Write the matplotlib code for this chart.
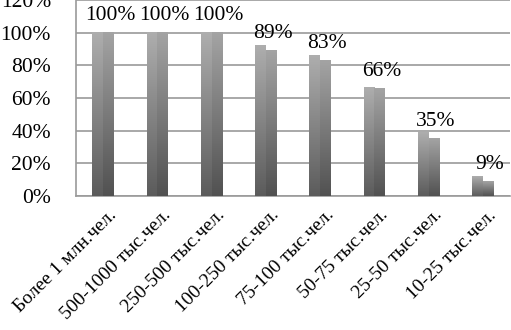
import numpy as np
import matplotlib.pyplot as plt

# Данные
categories = ['Более 1 млн.чел.', '500-1000 тыс.чел.', '250-500 тыс.чел.',
              '100-250 тыс.чел.', '75-100 тыс.чел.', '50-75 тыс.чел.',
              '25-50 тыс.чел.', '10-25 тыс.чел.']
back_vals = [100, 100, 100, 92, 86, 66.5, 39, 12]
front_vals = [100, 100, 100, 89, 83, 66, 35, 9]
labels = ['100%', '100%', '100%', '89%', '83%', '66%', '35%', '9%']
yticks = [0, 20, 40, 60, 80, 100, 120]

plt.rcParams['font.family'] = ['Liberation Serif', 'DejaVu Serif']

fig = plt.figure(figsize=(5.11, 3.30), dpi=100)
ax = fig.add_axes([76 / 511, 134 / 330, 434 / 511, 196 / 330])

x = np.arange(len(categories))
w = 0.2


def grad_bar(ax, x0, x1, h, top, bottom):
    """Столбец с вертикальным градиентом"""
    g = np.linspace(0, 1, 64).reshape(-1, 1)
    c0 = np.array(bottom)
    c1 = np.array(top)
    img = c0 + (c1 - c0) * g
    img = np.repeat(img[:, None, :], 2, axis=1)
    ax.imshow(img, extent=[x0, x1, 0, h], origin='lower', aspect='auto',
              zorder=3, interpolation='bilinear')


for i in range(len(categories)):
    grad_bar(ax, x[i] - w, x[i], back_vals[i], (0.68, 0.68, 0.68), (0.36, 0.36, 0.36))
    grad_bar(ax, x[i], x[i] + w, front_vals[i], (0.64, 0.64, 0.64), (0.32, 0.32, 0.32))
    ax.text(x[i] + w / 2 + 0.03, front_vals[i] + 4.5, labels[i], ha='center', va='bottom',
            fontsize=15.5, color='black')

ax.set_xlim(-0.5, len(categories) - 0.5)
ax.set_ylim(0, 120)
ax.set_yticks(yticks)
ax.set_yticklabels([f'{v}%' for v in yticks], fontsize=15.5)
ax.yaxis.grid(True, color='#9a9a9a', linewidth=1.2)
ax.set_axisbelow(True)
ax.tick_params(axis='y', length=0, pad=18)
ax.tick_params(axis='x', length=0, pad=12)
ax.set_xticks(x + 0.2)
ax.set_xticklabels(categories, rotation=45, ha='right', va='center',
                   rotation_mode='anchor', fontsize=14)

for s in ['top', 'right']:
    ax.spines[s].set_visible(False)
for s in ['left', 'bottom']:
    ax.spines[s].set_color('#9a9a9a')
    ax.spines[s].set_linewidth(1.2)

fig.savefig('out.png', dpi=100)
